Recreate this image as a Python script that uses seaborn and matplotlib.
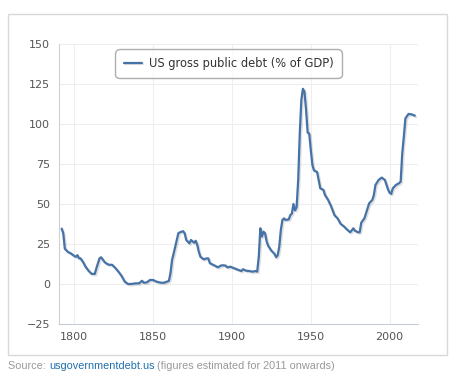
import matplotlib
matplotlib.use("Agg")
import matplotlib.pyplot as plt
import matplotlib.patheffects as pe
from matplotlib.patches import Rectangle
import pandas as pd
import seaborn as sns

# US gross public debt, % of GDP
years = [1792, 1793, 1794, 1796, 1798, 1800, 1801, 1802, 1803, 1804, 1806, 1807,
         1809, 1811, 1813, 1814, 1816, 1817, 1819, 1820, 1822, 1824, 1826, 1828,
         1830, 1832, 1834, 1836, 1839, 1841, 1843, 1844, 1846, 1848, 1850, 1852,
         1855, 1857, 1859, 1860, 1861, 1862, 1863, 1865, 1866, 1867, 1869, 1870,
         1871, 1873, 1874, 1876, 1877, 1878, 1879, 1880, 1882, 1884, 1885, 1886,
         1888, 1890, 1891, 1893, 1894, 1896, 1897, 1899, 1900, 1902, 1904, 1906,
         1907, 1909, 1911, 1913, 1915, 1916, 1917, 1918, 1919, 1920, 1921, 1922,
         1923, 1925, 1927, 1928, 1929, 1930, 1931, 1932, 1933, 1934, 1936, 1937,
         1938, 1939, 1940, 1941, 1942, 1943, 1944, 1945, 1946, 1947, 1948, 1949,
         1950, 1951, 1952, 1954, 1955, 1956, 1958, 1959, 1961, 1963, 1965, 1967,
         1969, 1971, 1973, 1975, 1977, 1978, 1980, 1981, 1982, 1984, 1986, 1987,
         1989, 1990, 1991, 1993, 1995, 1997, 1998, 1999, 2000, 2001, 2002, 2004,
         2006, 2007, 2008, 2009, 2010, 2012, 2014, 2016]
debt = [34.6, 31.7, 22.0, 20.0, 19.0, 17.5, 17.0, 18.0, 16.0, 16.0, 13.0, 11.0,
        8.3, 6.3, 6.3, 9.8, 16.0, 16.7, 14.0, 13.0, 12.0, 12.0, 10.0, 7.7,
        5.0, 1.5, 0.0, 0.0, 0.4, 0.4, 2.0, 0.8, 1.0, 2.5, 2.5, 1.5,
        0.8, 0.8, 1.5, 1.9, 6.7, 15.0, 19.0, 27.5, 31.7, 32.3, 33.0, 31.7,
        27.5, 25.4, 27.5, 25.8, 27.0, 24.4, 20.0, 17.0, 15.4, 16.0, 16.0, 13.0,
        12.0, 11.0, 10.4, 11.5, 11.7, 11.5, 10.4, 10.8, 10.4, 9.6, 8.8, 8.1,
        9.2, 8.3, 8.1, 7.7, 8.1, 7.7, 17.0, 34.8, 29.6, 32.7, 31.7, 26.5,
        23.8, 20.8, 18.8, 16.7, 18.0, 23.3, 33.8, 40.0, 41.0, 40.0, 40.4, 43.0,
        44.0, 50.0, 46.0, 48.0, 65.0, 94.0, 115.0, 122.0, 120.0, 108.8, 94.6, 94.0,
        83.8, 74.4, 71.0, 70.0, 65.0, 59.8, 58.8, 55.6, 52.5, 48.3, 43.0, 41.0,
        37.5, 36.0, 34.0, 32.3, 34.8, 33.3, 32.3, 32.3, 38.3, 41.0, 47.3, 50.4,
        52.5, 55.6, 61.9, 65.0, 66.5, 65.0, 61.9, 59.0, 57.0, 56.3, 59.8, 61.9,
        63.0, 64.0, 81.7, 92.0, 103.5, 106.3, 106.0, 105.2]

series_name = "US gross public debt (% of GDP)"
y_ticks = [-25, 0, 25, 50, 75, 100, 125, 150]
x_ticks = [1800, 1850, 1900, 1950, 2000]

df = pd.DataFrame({"year": years, "debt": debt})

sns.set_style("white")
plt.rcParams["font.family"] = ["DejaVu Sans"]

fig = plt.figure(figsize=(4.59, 3.92), dpi=100)
ax = fig.add_axes([0.1275, 0.1735, 0.7832, 0.7143])

# Outer frame around the chart
fig.patches.append(Rectangle((8 / 459, 1 - 355 / 392), 439 / 459, 341 / 392,
                             transform=fig.transFigure, fill=False,
                             edgecolor="#d8d8d8", linewidth=1.0))

sns.lineplot(data=df, x="year", y="debt", ax=ax, color="#4572A7", linewidth=1.6,
             label=series_name,
             path_effects=[pe.SimpleLineShadow(offset=(1, -1), alpha=0.12, shadow_color="black"),
                           pe.Normal()])

ax.set_xlim(1790, 2018)
ax.set_ylim(-25, 150)
ax.set_xticks(x_ticks)
ax.set_yticks(y_ticks)
ax.set_xlabel("")
ax.set_ylabel("")
ax.grid(True, color="#eeeeee", linewidth=0.8)
ax.set_axisbelow(True)

for side in ["top", "right"]:
    ax.spines[side].set_visible(False)
ax.spines["left"].set_color("#d0d0d0")
ax.spines["bottom"].set_color("#c8ccd4")
ax.tick_params(axis="x", length=4, color="#c8ccd4", pad=2, labelsize=8, labelcolor="#555555")
ax.tick_params(axis="y", length=0, pad=6, labelsize=8, labelcolor="#555555")

leg = ax.legend(loc="center", bbox_to_anchor=(0.473, 0.93), frameon=True, fancybox=True,
                fontsize=8.3, handlelength=1.6, handletextpad=0.6, borderpad=0.25,
                borderaxespad=0, labelcolor="#333333")
leg.get_frame().set_edgecolor("#999999")
leg.get_frame().set_linewidth(1.0)
leg.get_frame().set_boxstyle("round,pad=0.45,rounding_size=0.4")

# Source line under the frame
src_y = 1 - 366 / 392
t1 = fig.text(8 / 459, src_y, "Source: ", fontsize=7.8, color="#999999",
              family="Liberation Sans", va="center")
fig.canvas.draw()
bb = t1.get_window_extent()
x2 = bb.x1 / fig.bbox.width
t2 = fig.text(x2, src_y, "usgovernmentdebt.us", fontsize=7.8, color="#1f6fae",
              family="Liberation Sans", va="center")
fig.canvas.draw()
bb = t2.get_window_extent()
x3 = bb.x1 / fig.bbox.width
fig.text(x3, src_y, " (figures estimated for 2011 onwards)", fontsize=7.8, color="#999999",
         family="Liberation Sans", va="center")

fig.savefig("out.png", dpi=100)
